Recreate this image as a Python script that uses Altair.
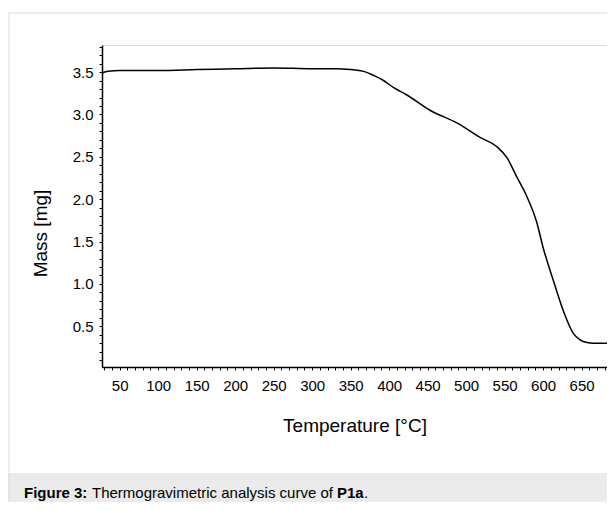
import altair as alt
import pandas as pd

# --- data ---
temps = [27, 35, 50, 100, 150, 200, 250, 300, 330, 350, 370, 380, 391, 407, 423, 453,
         488, 518, 540, 553, 566, 579, 592, 600, 613, 626, 639, 648, 657, 670, 684]
mass = [3.49, 3.51, 3.52, 3.52, 3.53, 3.54, 3.55, 3.54, 3.54, 3.53, 3.50, 3.46, 3.41, 3.31,
        3.23, 3.05, 2.90, 2.73, 2.62, 2.49, 2.26, 2.03, 1.72, 1.43, 1.05, 0.69, 0.42,
        0.34, 0.31, 0.30, 0.30]

x_ticks = list(range(30, 690, 10))
y_ticks = [round(0.1 * i, 1) for i in range(1, 39)]
x_domain = [27, 683]
y_domain = [0.02, 3.82]

x_title = "Temperature [°C]"
y_title = "Mass [mg]"
cap_bold1 = "Figure 3:"
cap_mid = "Thermogravimetric analysis curve of"
cap_bold2 = "P1a"
cap_end = "."

df = pd.DataFrame({"T": temps, "m": mass})
one = pd.DataFrame({"k": [0]})

FONT = "Liberation Sans"
W, H = 505, 322

line = alt.Chart(df).mark_line(color="black", strokeWidth=1.5, interpolate="monotone").encode(
    x=alt.X("T:Q",
            scale=alt.Scale(domain=x_domain, nice=False, zero=False),
            axis=alt.Axis(values=x_ticks,
                          labelExpr="datum.value % 50 == 0 ? datum.label : ''",
                          title=x_title, titleY=58, titleBaseline="middle",
                          titleFontSize=19, titleFontWeight="normal", titleFont=FONT,
                          titleColor="black",
                          labelFontSize=15, labelFont=FONT, labelColor="black",
                          labelPadding=8, tickSize=3, tickColor="black",
                          domainColor="black", domainWidth=1.5, grid=False,
                          labelOverlap=False, labelFlush=False)),
    y=alt.Y("m:Q",
            scale=alt.Scale(domain=y_domain, nice=False, zero=False),
            axis=alt.Axis(values=y_ticks,
                          labelExpr="abs(datum.value*2 - round(datum.value*2)) < 0.01 ? format(datum.value, '.1f') : ''",
                          title=y_title, titleX=-62, titleY=188, titleBaseline="middle",
                          titleFontSize=19, titleFontWeight="normal", titleFont=FONT,
                          titleColor="black",
                          labelFontSize=15, labelFont=FONT, labelColor="black",
                          labelPadding=6, tickSize=3, tickColor="black",
                          domainColor="black", domainWidth=1.5, grid=False,
                          labelOverlap=False, labelFlush=False)),
)

bar = alt.Chart(one).mark_rect(color="#ebebeb").encode(
    x=alt.value(-100), x2=alt.value(520), y=alt.value(428), y2=alt.value(470))
frame = alt.Chart(one).mark_rect(fill=None, stroke="#dcdcdc", strokeWidth=1).encode(
    x=alt.value(-93), x2=alt.value(530), y=alt.value(-32), y2=alt.value(600))

def txt(s, xpix, bold):
    return alt.Chart(one).mark_text(align="left", baseline="middle", fontSize=15, font=FONT,
                                    fontWeight="bold" if bold else "normal", color="black").encode(
        x=alt.value(xpix), y=alt.value(448), text=alt.value(s))

chart = alt.layer(
    bar, frame, line,
    txt(cap_bold1, -78, True), txt(cap_mid, -10, False),
    txt(cap_bold2, 235, True), txt(cap_end, 262, False),
).properties(
    width=W, height=H,
    autosize=alt.AutoSizeParams(type="none"),
    padding={"left": 94, "top": 37, "right": 0, "bottom": 135},
).configure_view(stroke=None).configure(background="white")

chart.save("out.html", embed_options={"renderer": "svg", "actions": False})
